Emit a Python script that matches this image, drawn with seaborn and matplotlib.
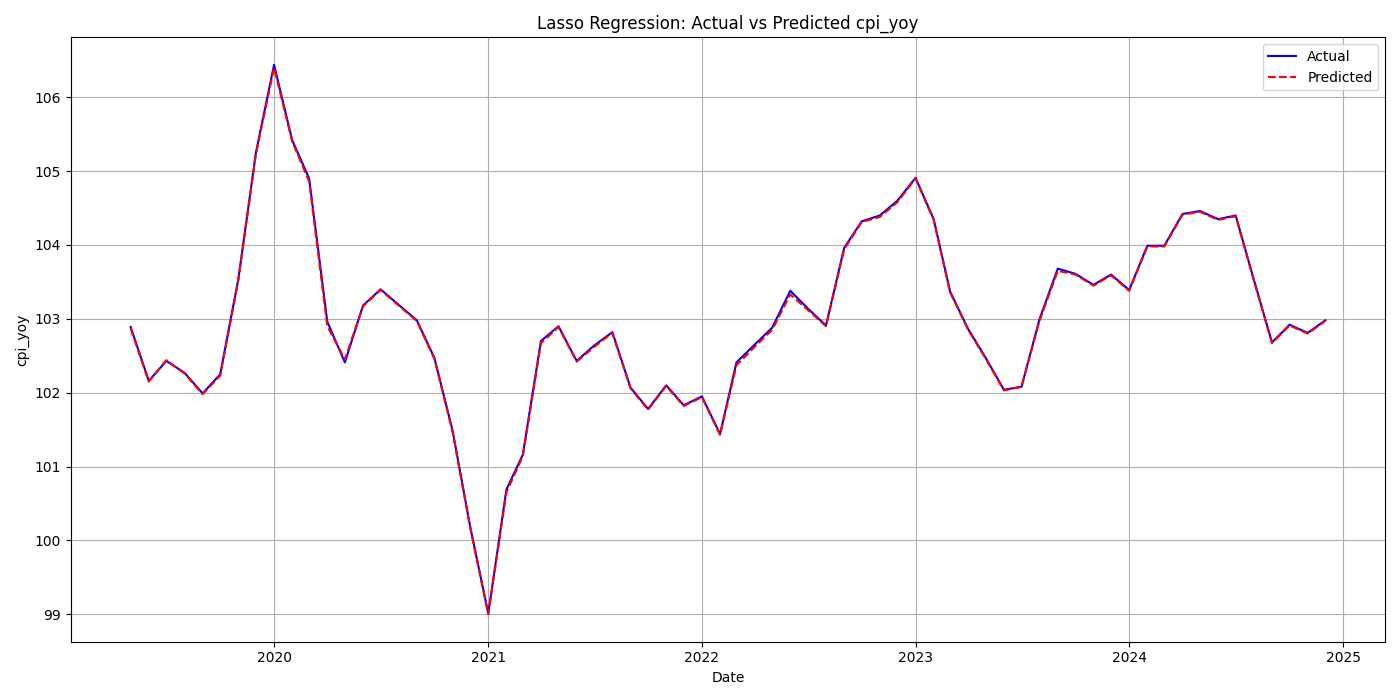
import pandas as pd
import matplotlib
matplotlib.use("Agg")
import matplotlib.pyplot as plt
import seaborn as sns

# Monthly dates, May 2019 to Dec 2024
dates = pd.date_range("2019-05-01", "2024-12-01", freq="MS")

# Actual cpi_yoy values
actual = [
    102.89, 102.16, 102.43, 102.27, 101.99, 102.25, 103.54, 105.25,  # 2019
    106.44, 105.42, 104.90, 102.96, 102.41, 103.18, 103.40, 103.19,
    102.98, 102.47, 101.49, 100.19,  # 2020 (Jan-Dec)
    99.01, 100.69, 101.16, 102.70, 102.90, 102.43, 102.64, 102.82,
    102.07, 101.78, 102.10, 101.83,  # 2021
    101.95, 101.44, 102.41, 102.65, 102.88, 103.38, 103.14, 102.91,
    103.96, 104.32, 104.40, 104.60,  # 2022
    104.91, 104.35, 103.37, 102.86, 102.47, 102.04, 102.08, 103.00,
    103.68, 103.61, 103.46, 103.60,  # 2023
    103.39, 103.99, 103.99, 104.42, 104.46, 104.35, 104.40, 103.53,
    102.68, 102.92, 102.81, 102.98,  # 2024
]

# Predicted values (near-identical to actual, small deviations)
predicted = [
    102.87, 102.15, 102.44, 102.26, 101.98, 102.23, 103.52, 105.23,
    106.40, 105.40, 104.86, 102.90, 102.45, 103.17, 103.39, 103.18,
    102.97, 102.46, 101.47, 100.18,
    99.00, 100.65, 101.14, 102.67, 102.89, 102.42, 102.62, 102.81,
    102.06, 101.77, 102.09, 101.82,
    101.94, 101.43, 102.37, 102.62, 102.85, 103.33, 103.12, 102.90,
    103.94, 104.31, 104.38, 104.58,
    104.90, 104.34, 103.36, 102.85, 102.46, 102.03, 102.08, 102.98,
    103.65, 103.60, 103.45, 103.59,
    103.38, 103.98, 103.98, 104.41, 104.45, 104.34, 104.39, 103.52,
    102.67, 102.91, 102.80, 102.97,
]

df = pd.DataFrame({"Date": dates, "Actual": actual, "Predicted": predicted})

fig, ax = plt.subplots(figsize=(14, 7), dpi=100)
sns.lineplot(data=df, x="Date", y="Actual", color="blue", label="Actual", ax=ax)
sns.lineplot(data=df, x="Date", y="Predicted", color="red", linestyle="--",
             label="Predicted", ax=ax)

ax.set_title("Lasso Regression: Actual vs Predicted cpi_yoy")
ax.set_xlabel("Date")
ax.set_ylabel("cpi_yoy")
ax.legend(loc="upper right")
ax.grid(True)

plt.tight_layout()
plt.savefig("out.png")
plt.close()
